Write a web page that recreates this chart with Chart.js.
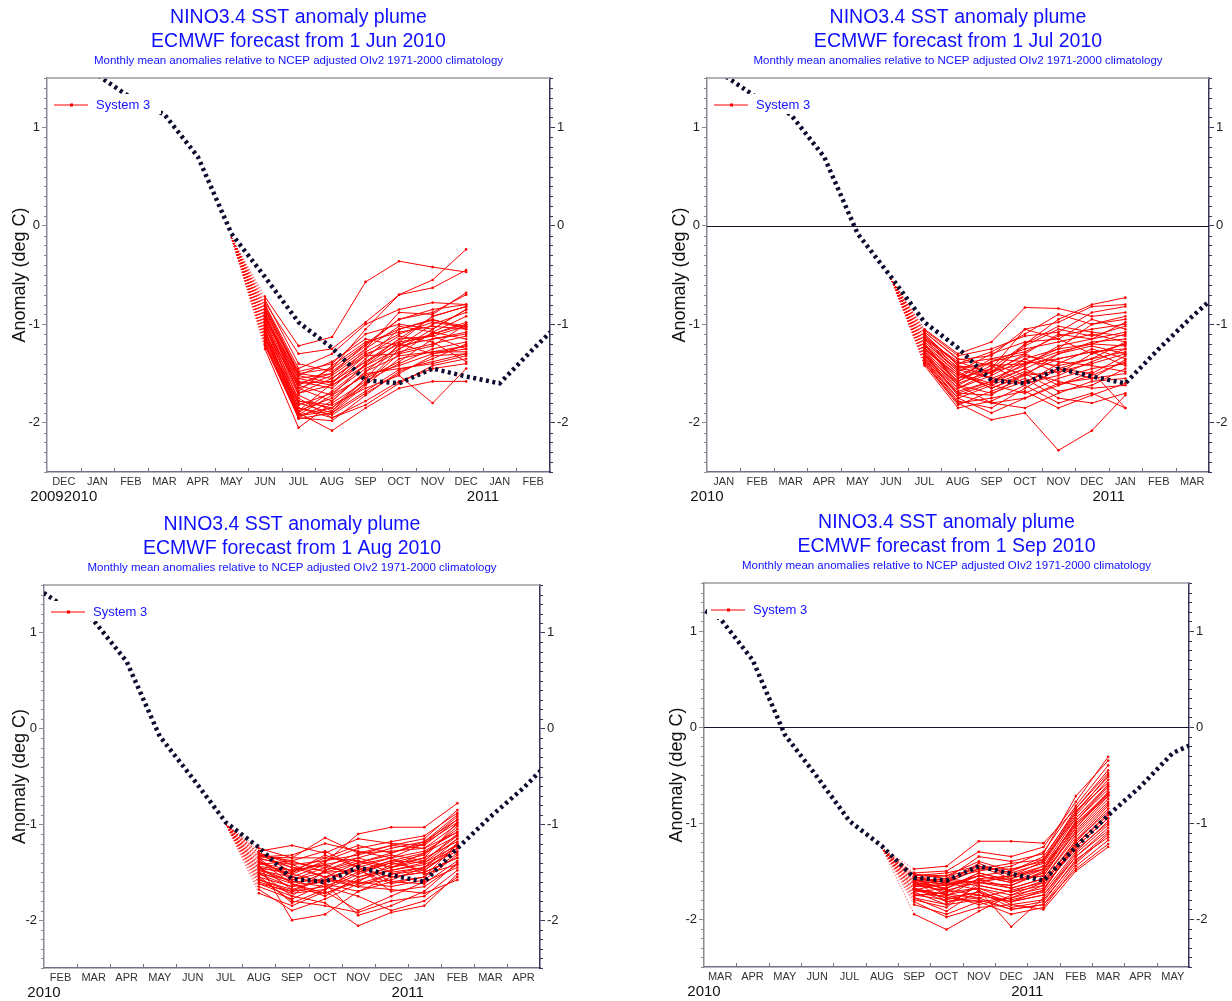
<!DOCTYPE html>
<html>
<head>
<meta charset="utf-8">
<title>NINO3.4 SST anomaly plume</title>
<script src="https://cdn.jsdelivr.net/npm/chart.js@4.4.1/dist/chart.umd.min.js"></script>
<style>
  body { margin: 0; background: #fff; width: 1232px; height: 1001px; position: relative; overflow: hidden; }
  canvas { position: absolute; }
</style>
</head>
<body>
<canvas id="p3" width="616" height="501" style="left:0;top:500px"></canvas>
<canvas id="p4" width="616" height="501" style="left:616px;top:500px"></canvas>
<canvas id="p1" width="616" height="506" style="left:0;top:0"></canvas>
<canvas id="p2" width="616" height="506" style="left:616px;top:0"></canvas>
<script>
const monthNames = ["JAN", "FEB", "MAR", "APR", "MAY", "JUN", "JUL", "AUG", "SEP", "OCT", "NOV", "DEC"];

// observed monthly NINO3.4 anomaly, Nov 2009 .. Jun 2011
const obsStartYear = 2009;
const obsStartMonth = 10; // Nov
const observed = [1.85, 1.80, 1.53, 1.30, 1.13, 0.70, -0.08, -0.52, -0.98, -1.24,
  -1.57, -1.60, -1.45, -1.53, -1.60, -1.25, -0.92, -0.62, -0.27, -0.12];

const forecastTitles = [
  "ECMWF forecast from 1 Jun 2010",
  "ECMWF forecast from 1 Jul 2010",
  "ECMWF forecast from 1 Aug 2010",
  "ECMWF forecast from 1 Sep 2010"
];
// index into observed of the first month on each x axis, and of the first forecast month
const panelFirstMonth = [1, 2, 3, 4];
const forecastFirstMonth = [7, 8, 9, 10];
// starting value of the plume (month before the forecast)
const initialValues = [-0.12, -0.54, -1.00, -1.26];

// System 3 ensemble members, 7 monthly values each
const membersJun = [
  [-0.72,-1.22,-1.13,-0.57,-0.36,-0.42,-0.47],
  [-0.78,-1.30,-1.25,-0.98,-0.70,-0.55,-0.24],
  [-0.85,-1.50,-1.45,-1.05,-0.70,-0.63,-0.45],
  [-0.95,-1.55,-1.50,-1.20,-0.95,-0.85,-0.80],
  [-1.10,-1.88,-1.60,-1.25,-0.88,-0.90,-0.68],
  [-0.90,-1.62,-1.72,-1.40,-1.15,-0.92,-0.82],
  [-1.05,-1.92,-1.85,-1.55,-1.20,-1.10,-1.00],
  [-0.82,-1.48,-1.40,-1.10,-1.00,-1.05,-0.85],
  [-1.15,-1.80,-1.90,-1.62,-1.35,-1.28,-1.22],
  [-0.98,-1.70,-1.55,-1.30,-1.18,-1.12,-1.02],
  [-1.20,-1.95,-1.78,-1.48,-1.22,-1.00,-0.88],
  [-0.88,-1.58,-1.65,-1.35,-1.05,-0.95,-1.05],
  [-1.02,-1.85,-1.92,-1.70,-1.50,-1.32,-1.30],
  [-0.93,-1.52,-1.38,-1.15,-1.22,-1.15,-1.08],
  [-1.25,-2.05,-1.80,-1.58,-1.40,-1.25,-1.18],
  [-1.08,-1.75,-1.95,-1.78,-1.58,-1.45,-1.40],
  [-0.80,-1.45,-1.30,-1.00,-0.85,-0.78,-0.80],
  [-1.12,-1.90,-2.08,-1.85,-1.65,-1.58,-1.58],
  [-0.96,-1.65,-1.52,-1.28,-1.10,-0.98,-1.03],
  [-1.00,-1.82,-1.70,-1.45,-1.28,-1.20,-1.12],
  [-0.75,-1.40,-1.48,-1.22,-0.95,-0.88,-0.70],
  [-1.18,-1.93,-1.88,-1.60,-1.30,-1.08,-0.92],
  [-0.92,-1.60,-1.58,-1.38,-1.20,-1.30,-1.25],
  [-1.06,-1.88,-1.75,-1.50,-1.45,-1.40,-1.32],
  [-0.86,-1.55,-1.62,-1.42,-1.25,-1.10,-0.98],
  [-1.14,-1.78,-1.82,-1.65,-1.52,-1.80,-1.45],
  [-0.99,-1.68,-1.42,-1.18,-1.08,-1.02,-1.05],
  [-1.22,-1.95,-1.98,-1.72,-1.48,-1.35,-1.20],
  [-0.84,-1.52,-1.60,-1.32,-1.12,-1.18,-1.38],
  [-1.03,-1.72,-1.88,-1.55,-1.38,-1.15,-1.10],
  [-0.90,-1.65,-1.78,-1.48,-1.32,-1.28,-1.28],
  [-1.16,-1.90,-1.68,-1.42,-1.18,-0.92,-0.82],
  [-0.94,-1.60,-1.50,-1.25,-1.02,-1.08,-1.15],
  [-1.09,-1.85,-1.95,-1.82,-1.60,-1.42,-1.35],
  [-0.81,-1.50,-1.55,-1.32,-1.30,-1.22,-1.00],
  [-1.20,-1.92,-1.72,-1.52,-1.42,-1.30,-1.22],
  [-0.97,-1.78,-1.85,-1.60,-1.25,-1.05,-0.85],
  [-1.04,-1.62,-1.45,-1.20,-1.05,-0.96,-1.02],
  [-0.89,-1.70,-1.62,-1.38,-1.15,-1.12,-1.25],
  [-1.12,-1.96,-1.90,-1.68,-1.46,-1.38,-1.30]
];
const membersJul = [
  [-1.05,-1.30,-1.18,-0.83,-0.84,-0.92,-0.88],
  [-1.12,-1.45,-1.50,-1.20,-0.95,-0.80,-0.73],
  [-1.20,-1.62,-1.45,-1.05,-0.98,-0.82,-0.80],
  [-1.38,-1.80,-1.97,-1.90,-2.28,-2.08,-1.72],
  [-1.25,-1.55,-1.35,-1.28,-1.12,-1.05,-1.00],
  [-1.30,-1.72,-1.60,-1.45,-1.30,-1.18,-1.15],
  [-1.15,-1.40,-1.28,-1.10,-0.90,-1.00,-0.95],
  [-1.42,-1.85,-1.78,-1.62,-1.80,-1.70,-1.85],
  [-1.08,-1.35,-1.42,-1.40,-1.25,-1.20,-1.22],
  [-1.22,-1.50,-1.65,-1.52,-1.48,-1.40,-1.30],
  [-1.35,-1.75,-1.90,-1.75,-1.60,-1.55,-1.50],
  [-1.18,-1.48,-1.30,-1.18,-1.15,-0.95,-1.05],
  [-1.28,-1.65,-1.52,-1.35,-1.50,-1.30,-1.20],
  [-1.10,-1.42,-1.55,-1.60,-1.40,-1.25,-1.35],
  [-1.32,-1.70,-1.72,-1.50,-1.68,-1.62,-1.45],
  [-1.24,-1.58,-1.38,-1.25,-1.18,-1.10,-1.18],
  [-1.40,-1.82,-1.68,-1.55,-1.75,-1.80,-1.70],
  [-1.14,-1.38,-1.50,-1.30,-1.10,-1.15,-0.98],
  [-1.26,-1.52,-1.62,-1.70,-1.55,-1.45,-1.40],
  [-1.20,-1.60,-1.48,-1.40,-1.35,-1.28,-1.25],
  [-1.36,-1.78,-1.85,-1.65,-1.45,-1.35,-1.28],
  [-1.06,-1.32,-1.25,-1.12,-1.08,-0.88,-0.82],
  [-1.30,-1.68,-1.58,-1.45,-1.62,-1.52,-1.38],
  [-1.16,-1.44,-1.40,-1.52,-1.30,-1.22,-1.30],
  [-1.34,-1.72,-1.80,-1.85,-1.70,-1.58,-1.55],
  [-1.22,-1.55,-1.45,-1.20,-1.02,-1.08,-1.12],
  [-1.12,-1.40,-1.35,-1.38,-1.42,-1.35,-1.18],
  [-1.38,-1.75,-1.62,-1.48,-1.58,-1.65,-1.62],
  [-1.26,-1.62,-1.70,-1.58,-1.45,-1.50,-1.32],
  [-1.18,-1.46,-1.55,-1.42,-1.22,-1.15,-1.08],
  [-1.32,-1.65,-1.48,-1.32,-1.38,-1.42,-1.48],
  [-1.08,-1.36,-1.32,-1.05,-1.15,-1.30,-1.20],
  [-1.40,-1.80,-1.75,-1.68,-1.85,-1.72,-1.60],
  [-1.20,-1.50,-1.60,-1.35,-1.25,-1.00,-0.92],
  [-1.28,-1.58,-1.42,-1.60,-1.52,-1.38,-1.25],
  [-1.15,-1.48,-1.65,-1.50,-1.35,-1.28,-1.42],
  [-1.34,-1.70,-1.58,-1.40,-1.28,-1.20,-1.10],
  [-1.24,-1.52,-1.38,-1.30,-1.45,-1.55,-1.36],
  [-1.10,-1.42,-1.48,-1.22,-1.05,-1.12,-1.02],
  [-1.30,-1.62,-1.80,-1.75,-1.62,-1.48,-1.85]
];
const membersAug = [
  [-1.25,-1.35,-1.14,-1.30,-1.22,-1.15,-0.85],
  [-1.30,-1.50,-1.40,-1.10,-1.03,-1.03,-0.78],
  [-1.42,-2.00,-1.94,-1.70,-1.60,-1.55,-1.20],
  [-1.35,-1.45,-1.55,-1.40,-1.30,-1.18,-0.90],
  [-1.55,-1.65,-1.50,-1.62,-1.58,-1.45,-1.15],
  [-1.28,-1.22,-1.30,-1.15,-1.20,-1.22,-0.95],
  [-1.62,-1.75,-1.82,-2.06,-1.92,-1.85,-1.52],
  [-1.38,-1.55,-1.42,-1.35,-1.45,-1.30,-1.05],
  [-1.48,-1.60,-1.65,-1.50,-1.38,-1.40,-1.22],
  [-1.32,-1.38,-1.28,-1.45,-1.55,-1.50,-1.35],
  [-1.72,-1.85,-1.70,-1.90,-1.75,-1.60,-1.45],
  [-1.45,-1.52,-1.60,-1.42,-1.35,-1.20,-0.98],
  [-1.58,-1.70,-1.55,-1.65,-1.68,-1.72,-1.58],
  [-1.36,-1.42,-1.38,-1.25,-1.18,-1.12,-0.88],
  [-1.50,-1.62,-1.75,-1.55,-1.45,-1.38,-1.10],
  [-1.40,-1.48,-1.35,-1.38,-1.50,-1.45,-1.28],
  [-1.65,-1.78,-1.62,-1.95,-1.85,-1.70,-1.40],
  [-1.30,-1.40,-1.45,-1.30,-1.28,-1.25,-1.00],
  [-1.52,-1.58,-1.50,-1.48,-1.62,-1.55,-1.30],
  [-1.44,-1.68,-1.58,-1.60,-1.42,-1.35,-1.18],
  [-1.34,-1.32,-1.20,-1.28,-1.35,-1.28,-1.08],
  [-1.60,-1.72,-1.68,-1.52,-1.40,-1.48,-1.25],
  [-1.46,-1.50,-1.32,-1.45,-1.70,-1.65,-1.42],
  [-1.38,-1.62,-1.72,-1.58,-1.48,-1.40,-1.15],
  [-1.56,-1.80,-1.85,-1.92,-1.80,-1.75,-1.48],
  [-1.32,-1.45,-1.48,-1.35,-1.25,-1.18,-0.95],
  [-1.48,-1.55,-1.62,-1.70,-1.55,-1.50,-1.35],
  [-1.42,-1.38,-1.50,-1.40,-1.32,-1.38,-1.12],
  [-1.68,-1.90,-1.78,-1.62,-1.52,-1.45,-1.20],
  [-1.36,-1.58,-1.45,-1.50,-1.40,-1.32,-1.02],
  [-1.52,-1.65,-1.60,-1.42,-1.60,-1.62,-1.38],
  [-1.40,-1.52,-1.38,-1.32,-1.22,-1.25,-1.08],
  [-1.62,-1.70,-1.65,-1.75,-1.90,-1.80,-1.55],
  [-1.30,-1.42,-1.55,-1.48,-1.38,-1.30,-1.12],
  [-1.50,-1.75,-1.48,-1.38,-1.45,-1.35,-0.98],
  [-1.44,-1.48,-1.42,-1.55,-1.48,-1.42,-1.25],
  [-1.58,-1.68,-1.72,-1.60,-1.65,-1.58,-1.32],
  [-1.34,-1.35,-1.35,-1.22,-1.30,-1.20,-0.92],
  [-1.46,-1.60,-1.58,-1.65,-1.52,-1.48,-1.22],
  [-1.54,-1.82,-1.68,-1.45,-1.35,-1.52,-1.42]
];
const membersSep = [
  [-1.48,-1.45,-1.19,-1.19,-1.21,-0.85,-0.45],
  [-1.52,-1.50,-1.30,-1.35,-1.25,-0.78,-0.31],
  [-1.95,-2.11,-1.92,-1.75,-1.62,-1.25,-0.95],
  [-1.58,-1.62,-1.48,-1.42,-1.38,-0.95,-0.62],
  [-1.65,-1.70,-1.75,-1.82,-1.70,-1.20,-0.85],
  [-1.55,-1.52,-1.45,-1.58,-1.48,-1.05,-0.70],
  [-1.72,-1.85,-1.80,-1.90,-1.85,-1.42,-1.12],
  [-1.60,-1.58,-1.62,-1.55,-1.40,-0.90,-0.50],
  [-1.78,-1.92,-1.70,-2.08,-1.78,-1.35,-1.05],
  [-1.62,-1.68,-1.55,-1.62,-1.52,-1.10,-0.75],
  [-1.68,-1.75,-1.85,-1.78,-1.65,-1.28,-1.00],
  [-1.57,-1.55,-1.40,-1.50,-1.35,-0.88,-0.58],
  [-1.82,-1.98,-1.88,-1.85,-1.90,-1.50,-1.25],
  [-1.63,-1.72,-1.58,-1.68,-1.58,-1.15,-0.80],
  [-1.70,-1.62,-1.65,-1.72,-1.60,-1.22,-0.92],
  [-1.53,-1.58,-1.50,-1.45,-1.30,-0.82,-0.40],
  [-1.75,-1.80,-1.72,-1.88,-1.82,-1.38,-1.15],
  [-1.66,-1.65,-1.60,-1.58,-1.45,-1.02,-0.68],
  [-1.58,-1.75,-1.68,-1.80,-1.72,-1.30,-0.98],
  [-1.72,-1.68,-1.52,-1.60,-1.55,-1.08,-0.72],
  [-1.60,-1.82,-1.78,-1.70,-1.62,-1.18,-0.88],
  [-1.80,-1.88,-1.62,-1.65,-1.50,-0.98,-0.65],
  [-1.64,-1.60,-1.45,-1.52,-1.42,-0.92,-0.55],
  [-1.70,-1.78,-1.82,-1.95,-1.88,-1.45,-1.18],
  [-1.56,-1.65,-1.55,-1.62,-1.48,-1.00,-0.70],
  [-1.76,-1.72,-1.68,-1.75,-1.68,-1.25,-0.95],
  [-1.62,-1.58,-1.35,-1.40,-1.32,-0.72,-0.35],
  [-1.68,-1.82,-1.75,-1.82,-1.75,-1.32,-1.02],
  [-1.58,-1.70,-1.62,-1.68,-1.58,-1.12,-0.78],
  [-1.74,-1.76,-1.58,-1.55,-1.45,-0.95,-0.60],
  [-1.66,-1.62,-1.70,-1.85,-1.80,-1.40,-1.10],
  [-1.54,-1.55,-1.48,-1.48,-1.40,-0.88,-0.52],
  [-1.85,-1.95,-1.82,-1.78,-1.70,-1.22,-0.90],
  [-1.62,-1.68,-1.52,-1.60,-1.55,-1.05,-0.68],
  [-1.70,-1.74,-1.78,-1.90,-1.85,-1.48,-1.22],
  [-1.60,-1.64,-1.55,-1.50,-1.38,-0.85,-0.48],
  [-1.78,-1.85,-1.65,-1.72,-1.65,-1.18,-0.82],
  [-1.64,-1.60,-1.62,-1.65,-1.52,-1.02,-0.72],
  [-1.68,-1.78,-1.72,-1.82,-1.75,-1.35,-1.08],
  [-1.56,-1.62,-1.42,-1.55,-1.48,-0.98,-0.62]
];
const members = [membersJun, membersJul, membersAug, membersSep];

const fontFamily = "'Liberation Sans', Arial, Helvetica, sans-serif";
Chart.defaults.font.family = fontFamily;

// canvas placement of each panel (padding and axis sizes)
const panelLayout = [
  { id: "p1", top: 78, padLeft: 0, yWidth: 47, padRight: 46, yearH: 20, zero: false },
  { id: "p2", top: 78, padLeft: 44, yWidth: 47, padRight: 3, yearH: 20, zero: true },
  { id: "p3", top: 85, padLeft: 0, yWidth: 44, padRight: 56, yearH: 19, zero: false },
  { id: "p4", top: 83, padLeft: 41, yWidth: 47, padRight: 23, yearH: 20, zero: true }
];

const monthOf = (i) => (obsStartMonth + i) % 12;
const yearOf = (i) => obsStartYear + Math.floor((obsStartMonth + i) / 12);

const panelDecor = {
  id: "panelDecor",
  beforeDatasetsDraw(chart, args, opts) {
    if (!opts.zero) return;
    const { ctx, chartArea: a, scales } = chart;
    const y = Math.round(scales.y.getPixelForValue(0)) + 0.5;
    ctx.save();
    ctx.strokeStyle = "#15152a";
    ctx.lineWidth = 1;
    ctx.beginPath();
    ctx.moveTo(a.left, y);
    ctx.lineTo(a.right, y);
    ctx.stroke();
    ctx.restore();
  },
  afterDatasetsDraw(chart) {
    // legend, on a white box over the plot
    const { ctx, chartArea: a } = chart;
    ctx.save();
    ctx.fillStyle = "#fff";
    ctx.fillRect(a.left + 3, a.top + 16, 111, 20);
    const ly = a.top + 27;
    ctx.strokeStyle = "#ff0000";
    ctx.lineWidth = 1;
    ctx.beginPath();
    ctx.moveTo(a.left + 7, ly);
    ctx.lineTo(a.left + 41, ly);
    ctx.stroke();
    ctx.fillStyle = "#ff0000";
    ctx.fillRect(a.left + 23, ly - 1.5, 3, 3);
    ctx.fillStyle = "#1414ff";
    ctx.font = "13px " + fontFamily;
    ctx.textBaseline = "middle";
    ctx.fillText("System 3", a.left + 49, ly);
    ctx.restore();
  },
  afterDraw(chart, args, opts) {
    const { ctx, chartArea: a, scales } = chart;
    ctx.save();
    // top frame line
    ctx.strokeStyle = "#9a9aa2";
    ctx.lineWidth = 1.5;
    ctx.beginPath();
    ctx.moveTo(a.left, a.top);
    ctx.lineTo(a.right, a.top);
    ctx.stroke();
    // minor ticks on both y axes
    ctx.lineWidth = 1;
    for (let i = -25; i <= 15; i++) {
      if (i % 10 === 0) continue;
      const y = Math.round(scales.y.getPixelForValue(i / 10)) + 0.5;
      ctx.strokeStyle = "#8a8a95";
      ctx.beginPath();
      ctx.moveTo(a.left - 3, y);
      ctx.lineTo(a.left, y);
      ctx.stroke();
      ctx.strokeStyle = "#35355a";
      ctx.beginPath();
      ctx.moveTo(a.right, y);
      ctx.lineTo(a.right + 3, y);
      ctx.stroke();
    }
    // month boundary ticks, pointing into the plot
    ctx.strokeStyle = "#6f7088";
    for (let k = 1; k < 15; k++) {
      const x = Math.round(scales.x.getPixelForValue(k)) + 0.5;
      ctx.beginPath();
      ctx.moveTo(x, a.bottom);
      ctx.lineTo(x, a.bottom - 4);
      ctx.stroke();
    }
    // titles
    const cx = (a.left + a.right) / 2;
    ctx.fillStyle = "#1010ff";
    ctx.textAlign = "center";
    ctx.textBaseline = "middle";
    ctx.font = "19.5px " + fontFamily;
    ctx.fillText("NINO3.4 SST anomaly plume", cx, a.top - 60);
    ctx.fillText(opts.title, cx, a.top - 36);
    ctx.font = "11.5px " + fontFamily;
    ctx.fillText("Monthly mean anomalies relative to NCEP adjusted OIv2 1971-2000 climatology", cx, a.top - 17);
    ctx.restore();
  }
};

function makePanel(p) {
  const lay = panelLayout[p];
  const first = panelFirstMonth[p];
  const x0 = forecastFirstMonth[p] - first - 0.5;

  const monthTicks = [];
  for (let k = 0; k < 15; k++) monthTicks.push(k + 0.5);
  const yearTicks = [0];
  for (let k = 1; k < 15; k++) if (monthOf(first + k) === 0) yearTicks.push(k);

  const datasets = [{
    data: observed.map((v, i) => ({ x: i - first + 0.5, y: v })),
    borderColor: "#0c0c30",
    borderWidth: 4.5,
    borderDash: [3, 3.5],
    borderCapStyle: "butt",
    pointRadius: 0,
    order: 0,
    clip: 0
  }];
  members[p].forEach((vals) => {
    datasets.push({
      data: [{ x: x0, y: initialValues[p] }].concat(vals.map((v, k) => ({ x: x0 + 1 + k, y: v }))),
      borderColor: "#ff0000",
      borderWidth: 1,
      pointRadius: (c) => (c.dataIndex === 0 ? 0 : 1.3),
      pointBackgroundColor: "#ff0000",
      pointBorderWidth: 0,
      segment: {
        borderDash: (c) => (c.p0DataIndex === 0 ? [1, 2] : undefined),
        borderWidth: (c) => (c.p0DataIndex === 0 ? 0.8 : undefined)
      },
      order: 1,
      clip: 0
    });
  });

  const yAxis = (pos) => ({
    type: "linear",
    position: pos,
    min: -2.5,
    max: 1.5,
    afterBuildTicks: (s) => { s.ticks = [-2, -1, 0, 1].map((v) => ({ value: v })); },
    afterFit: (s) => { s.width = pos === "left" ? lay.yWidth : 20; },
    ticks: { padding: 2, color: "#222", font: { size: 13 }, callback: (v) => String(v) },
    grid: { drawOnChartArea: false, tickLength: 5, color: pos === "left" ? "#8a8a95" : "#35355a" },
    border: { color: pos === "left" ? "#8a8a95" : "#35355a", width: 1.5 },
    title: {
      display: pos === "left",
      text: "Anomaly (deg C)",
      color: "#111",
      font: { size: 18 },
      padding: { top: 9, bottom: 0 }
    }
  });

  return new Chart(document.getElementById(lay.id), {
    type: "line",
    data: { datasets },
    plugins: [panelDecor],
    options: {
      responsive: false,
      maintainAspectRatio: false,
      animation: false,
      events: [],
      layout: { padding: { top: lay.top, left: lay.padLeft, right: lay.padRight, bottom: 0 } },
      elements: { line: { tension: 0 } },
      plugins: {
        legend: { display: false },
        tooltip: { enabled: false },
        title: { display: false },
        panelDecor: { zero: lay.zero, title: forecastTitles[p] }
      },
      scales: {
        x: {
          type: "linear",
          position: "bottom",
          min: 0,
          max: 15,
          afterBuildTicks: (s) => { s.ticks = monthTicks.map((v) => ({ value: v })); },
          afterFit: (s) => { s.height = 14; },
          ticks: {
            autoSkip: false,
            maxRotation: 0,
            padding: 3.5,
            color: "#333",
            font: { size: 11 },
            callback: (v) => monthNames[monthOf(first + Math.floor(v))]
          },
          grid: { display: false, drawTicks: false },
          border: { display: true, color: "#6f7088", width: 1.5 }
        },
        xYear: {
          type: "linear",
          position: "bottom",
          weight: 1,
          min: 0,
          max: 15,
          afterBuildTicks: (s) => { s.ticks = yearTicks.map((v) => ({ value: v })); },
          afterFit: (s) => { s.height = lay.yearH; },
          ticks: {
            autoSkip: false,
            maxRotation: 0,
            padding: 3,
            color: "#111",
            font: { size: 15, lineHeight: 1 },
            callback: (v) => String(yearOf(first + v))
          },
          grid: { display: false, drawTicks: false },
          border: { display: false }
        },
        y: yAxis("left"),
        yRight: yAxis("right")
      }
    }
  });
}

[0, 1, 2, 3].forEach(makePanel);
</script>
</body>
</html>
